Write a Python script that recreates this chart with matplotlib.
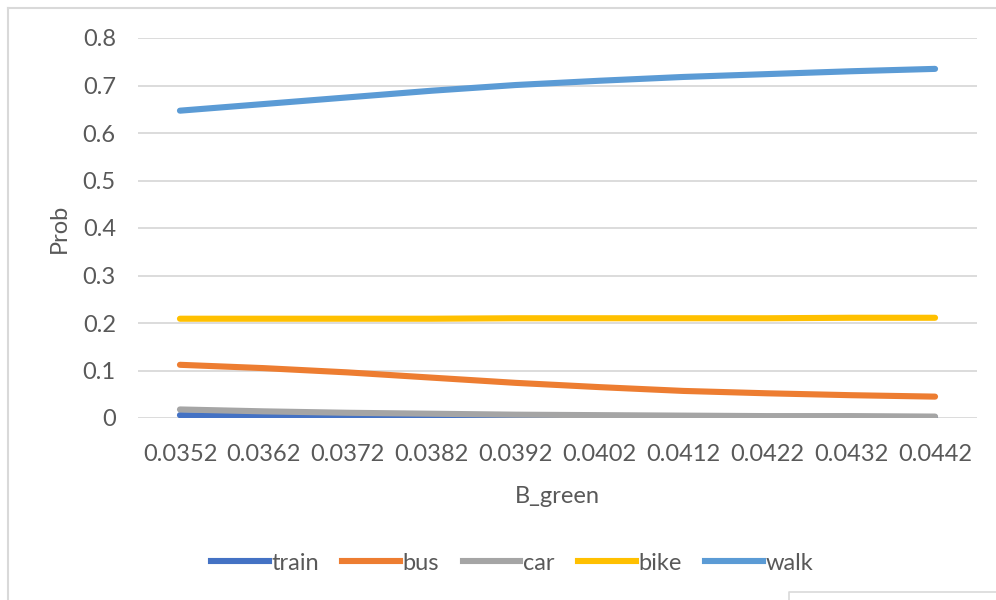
import matplotlib
matplotlib.use("Agg")
import matplotlib.pyplot as plt
from matplotlib.lines import Line2D

# B_green values on the category axis
b_green = ["0.0352", "0.0362", "0.0372", "0.0382", "0.0392",
           "0.0402", "0.0412", "0.0422", "0.0432", "0.0442"]

# probabilities
train = [0.006, 0.004, 0.003, 0.002, 0.002, 0.0015, 0.001, 0.001, 0.001, 0.001]
bus = [0.112, 0.105, 0.096, 0.085, 0.074, 0.065, 0.057, 0.052, 0.048, 0.045]
car = [0.018, 0.014, 0.011, 0.009, 0.007, 0.006, 0.005, 0.004, 0.004, 0.003]
bike = [0.209, 0.209, 0.209, 0.209, 0.210, 0.210, 0.210, 0.210, 0.211, 0.211]
walk = [0.647, 0.661, 0.675, 0.689, 0.701, 0.710, 0.718, 0.724, 0.730, 0.735]

series = ["train", "bus", "car", "bike", "walk"]
colors = ["#4472c4", "#ed7d31", "#a5a5a5", "#ffc000", "#5b9bd5"]
yticks = [0, 0.1, 0.2, 0.3, 0.4, 0.5, 0.6, 0.7, 0.8]
ytick_labels = ["0", "0.1", "0.2", "0.3", "0.4", "0.5", "0.6", "0.7", "0.8"]

plt.rcParams['font.family'] = ['Lato', 'DejaVu Sans']
txt = '#595959'
fs = 17

fig = plt.figure(figsize=(9.96, 6.0), dpi=100)
ax = fig.add_axes([138 / 996, 1 - 418 / 600, (977 - 138) / 996, (418 - 38) / 600])

data = dict(zip(series, [train, bus, car, bike, walk]))
x = list(range(len(b_green)))
for name, c in zip(series, colors):
    ax.plot(x, data[name], color=c, linewidth=4.4, solid_capstyle='round',
            label=name, zorder=3)

ax.set_xlim(-0.5, len(b_green) - 0.5)
ax.set_ylim(0, 0.8)
ax.set_xticks(x)
ax.set_xticklabels(b_green)
ax.set_yticks(yticks)
ax.set_yticklabels(ytick_labels)
ax.tick_params(axis='both', length=0, labelsize=fs, labelcolor=txt)
ax.tick_params(axis='x', pad=19)
ax.tick_params(axis='y', pad=16)
ax.grid(axis='y', color='#d9d9d9', linewidth=1.3)
ax.set_axisbelow(True)
for s in ax.spines.values():
    s.set_visible(False)

ax.set_ylabel('Prob', fontsize=fs, color=txt, labelpad=9)
ax.set_xlabel('B_green', fontsize=fs, color=txt, labelpad=15)

handles = [Line2D([], [], color=c, linewidth=4.4) for c in colors]
fig.legend(handles, series, loc='center', bbox_to_anchor=(512 / 996, 1 - 563 / 600),
           ncol=5, frameon=False, fontsize=fs, labelcolor=txt,
           handlelength=2.45, handletextpad=0.1, columnspacing=1.0)

# chart border and the stray box at the lower right
fig.add_artist(Line2D([8 / 996, 8 / 996], [0, 1 - 8 / 600], color='#d9d9d9',
                      linewidth=1.5, transform=fig.transFigure))
fig.add_artist(Line2D([8 / 996, 1], [1 - 8 / 600, 1 - 8 / 600], color='#d9d9d9',
                      linewidth=1.5, transform=fig.transFigure))
fig.add_artist(Line2D([789 / 996, 789 / 996, 1], [0, 1 - 592 / 600, 1 - 592 / 600],
                      color='#d9d9d9', linewidth=1.2, transform=fig.transFigure))

fig.savefig('out.png', dpi=100)
